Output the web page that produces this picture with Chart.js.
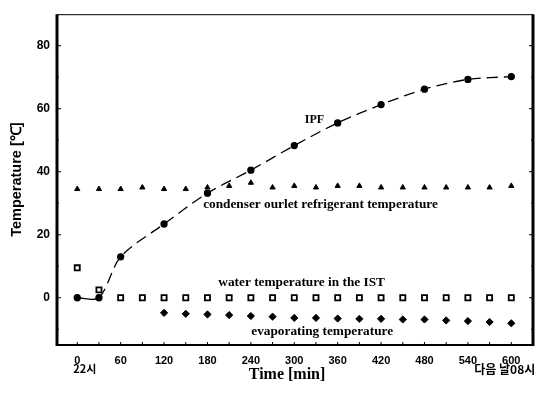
<!DOCTYPE html>
<html>
<head>
<meta charset="utf-8">
<script src="https://cdn.jsdelivr.net/npm/chart.js@4"></script>
<style>
  html, body { margin: 0; padding: 0; background: #fff; }
</style>
</head>
<body>
<canvas id="grafica-temp" width="545" height="394"></canvas>
<script>
// Datos
const xTicks = [0, 60, 120, 180, 240, 300, 360, 420, 480, 540, 600];
const yTicks = [0, 20, 40, 60, 80];

const ipfTime = [0, 30, 60, 120, 180, 240, 300, 360, 420, 480, 540, 600];
const ipfTemp = [0, 0, 13, 23.4, 33.2, 40.5, 48.3, 55.5, 61.3, 66.2, 69.3, 70.2];

const condTime = [0, 30, 60, 90, 120, 150, 180, 210, 240, 270, 300, 330, 360, 390, 420, 450, 480, 510, 540, 570, 600];
const condTemp = [34.5, 34.5, 34.5, 35, 34.5, 34.5, 35, 35.5, 36.5, 35, 35.5, 35, 35.5, 35.5, 35, 35, 35, 35, 35, 35, 35.5];

const waterTime = [0, 30, 60, 90, 120, 150, 180, 210, 240, 270, 300, 330, 360, 390, 420, 450, 480, 510, 540, 570, 600];
const waterTemp = [9.5, 2.5, 0, 0, 0, 0, 0, 0, 0, 0, 0, 0, 0, 0, 0, 0, 0, 0, 0, 0, 0];

const evapTime = [120, 150, 180, 210, 240, 270, 300, 330, 360, 390, 420, 450, 480, 510, 540, 570, 600];
const evapTemp = [-4.8, -5.1, -5.3, -5.5, -5.8, -6.0, -6.4, -6.4, -6.6, -6.7, -6.7, -6.9, -6.9, -7.2, -7.4, -7.7, -8.1];

const textoIPF = "IPF";
const textoCond = "condenser ourlet refrigerant temperature";
const textoWater = "water temperature in the IST";
const textoEvap = "evaporating temperature";
const textoInicio = "22시";
const textoFin = "다음 날08시";
const tituloX = "Time [min]";
const tituloY = "Temperature [℃]";

const puntos = (xs, ys) => xs.map((x, i) => ({ x, y: ys[i] }));

// Marco, marcas internas y rotulos
const marcoPlugin = {
  id: "marco",
  afterDatasetsDraw(chart) {
    const { ctx, chartArea: a, scales: { x, y } } = chart;
    const linea = (x1, y1, x2, y2) => {
      ctx.beginPath(); ctx.moveTo(x1, y1); ctx.lineTo(x2, y2); ctx.stroke();
    };
    ctx.save();
    ctx.strokeStyle = "#000";
    ctx.lineWidth = 1;
    for (let v = 0; v <= 600; v += 30) {
      const px = x.getPixelForValue(v);
      linea(px, a.bottom, px, a.bottom - 3);
    }
    for (let v = -10; v <= 80; v += 10) {
      const py = y.getPixelForValue(v);
      const len = v % 20 === 0 ? 4 : 2;
      linea(a.left, py, a.left + len, py);
      linea(a.right, py, a.right - len, py);
    }
    // bordes
    ctx.lineWidth = 3;
    linea(a.left, a.top, a.left, a.bottom + 1);
    linea(a.right, a.top, a.right, a.bottom + 1);
    ctx.lineWidth = 1;
    linea(a.left, a.top + 0.5, a.right, a.top + 0.5);
    ctx.lineWidth = 2;
    linea(a.left, a.bottom, a.right, a.bottom);

    // rotulos de las series
    ctx.fillStyle = "#000";
    ctx.textBaseline = "middle";
    ctx.font = 'bold 12px "Liberation Serif"';
    ctx.textAlign = "center";
    ctx.fillText(textoIPF, x.getPixelForValue(328), y.getPixelForValue(56.5));
    ctx.textAlign = "left";
    ctx.font = 'bold 13.3px "Liberation Serif"';
    ctx.fillText(textoCond, x.getPixelForValue(174), y.getPixelForValue(29.7));
    ctx.fillText(textoWater, x.getPixelForValue(195), y.getPixelForValue(4.7));
    ctx.fillText(textoEvap, x.getPixelForValue(240.5), y.getPixelForValue(-10.6));

    // horas bajo el eje
    ctx.font = 'bold 11px "Noto Sans CJK KR"';
    ctx.fillText(textoInicio, x.getPixelForValue(-5.5), a.bottom + 24);
    ctx.textAlign = "center";
    ctx.font = 'bold 12px "Noto Sans CJK KR"';
    ctx.fillText(textoFin, x.getPixelForValue(591), a.bottom + 24);

    // titulo eje x
    ctx.font = 'bold 16px "Liberation Serif"';
    ctx.fillText(tituloX, x.getPixelForValue(290), a.bottom + 30);
    ctx.restore();
  }
};

const ctxTemp = document.getElementById("grafica-temp").getContext("2d");

new Chart(ctxTemp, {
  type: "scatter",
  data: {
    datasets: [
      {
        label: textoIPF,
        data: puntos(ipfTime, ipfTemp),
        showLine: true,
        borderColor: "#000",
        borderWidth: 1.3,
        tension: 0.3,
        segment: { borderDash: c => (c.p0DataIndex === 0 ? [] : [11, 6]) },
        pointStyle: "circle",
        pointRadius: 3,
        backgroundColor: "#000"
      },
      {
        label: textoCond,
        data: puntos(condTime, condTemp),
        pointStyle: "triangle",
        pointRadius: 3,
        backgroundColor: "#000",
        borderColor: "#000",
        borderWidth: 1
      },
      {
        label: textoWater,
        data: puntos(waterTime, waterTemp),
        pointStyle: "rect",
        pointRadius: 3.6,
        backgroundColor: "#fff",
        borderColor: "#000",
        borderWidth: 1.8
      },
      {
        label: textoEvap,
        data: puntos(evapTime, evapTemp),
        pointStyle: "rectRot",
        pointRadius: 3.6,
        backgroundColor: "#000",
        borderColor: "#000",
        borderWidth: 1
      }
    ]
  },
  plugins: [marcoPlugin],
  options: {
    responsive: false,
    animation: false,
    layout: { padding: { top: 11, right: 12, left: 0, bottom: 0 } },
    plugins: {
      legend: { display: false },
      tooltip: { enabled: false }
    },
    scales: {
      x: {
        type: "linear",
        min: -28,
        max: 630,
        afterFit: s => { s.height = 49; },
        afterBuildTicks: s => { s.ticks = xTicks.map(v => ({ value: v })); },
        grid: { display: false, drawTicks: false },
        border: { display: false },
        ticks: {
          color: "#000",
          font: { family: "Liberation Sans", size: 11, weight: "bold" },
          padding: 9,
          maxRotation: 0,
          autoSkip: false
        }
      },
      y: {
        min: -15,
        max: 90,
        afterFit: s => { s.width = 57; },
        afterBuildTicks: s => { s.ticks = yTicks.map(v => ({ value: v })); },
        grid: { display: false, drawTicks: false },
        border: { display: false },
        ticks: {
          color: "#000",
          font: { family: "Liberation Sans", size: 12, weight: "bold" },
          padding: 7
        },
        title: {
          display: true,
          text: tituloY,
          color: "#000",
          font: { family: "Liberation Sans", size: 14.5, weight: "bold" },
          padding: { top: 8, bottom: 0 }
        }
      }
    }
  }
});
</script>
</body>
</html>
